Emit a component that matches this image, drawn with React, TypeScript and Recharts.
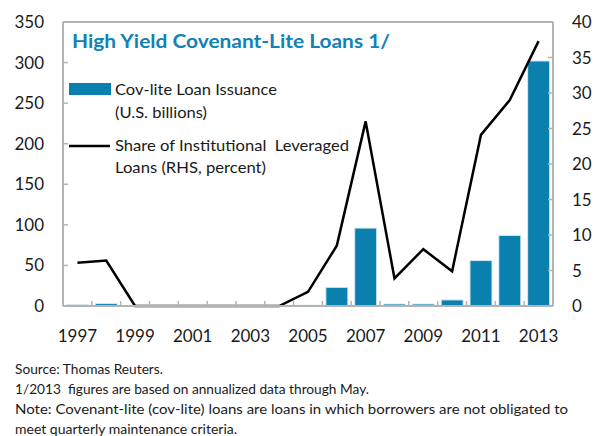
import React from 'react';
import { ComposedChart, Bar, Line, XAxis, YAxis, ReferenceLine } from 'recharts';

const years = ['1997', '1998', '1999', '2000', '2001', '2002', '2003', '2004', '2005',
  '2006', '2007', '2008', '2009', '2010', '2011', '2012', '2013'];
const issuance = [1.5, 3, 0, 0, 0, 0, 0, 0, 1, 23, 96, 2.5, 2.5, 7.5, 56, 87, 302];
const share = [6.1, 6.4, 0, 0, 0, 0, 0, 0, 2.0, 8.5, 26, 3.9, 8.0, 4.9, 24.1, 29.0, 37.3];
const leftTicks = [0, 50, 100, 150, 200, 250, 300, 350];
const rightTicks = [0, 5, 10, 15, 20, 25, 30, 35, 40];

const data = years.map((y, i) => ({ year: y, issuance: issuance[i], share: share[i] }));

const BLUE = '#0a80ae';
const AXIS_GRAY = '#b3b3b3';
const FONT = 'Lato, "Open Sans", sans-serif';
const CHART_W = 595;
const LEFT_W = 63;
const RIGHT_W = 42;
const BAND = (CHART_W - LEFT_W - RIGHT_W) / years.length;

// year ticks: small marks at category edges, labels on odd years
const YearTick = (props: any) => {
  const { x, y, payload, index } = props;
  const showLabel = index % 2 === 0;
  return (
    <g>
      <line x1={x - BAND / 2} x2={x - BAND / 2} y1={y} y2={y - 5} stroke={AXIS_GRAY} strokeWidth={1.5} />
      {index === years.length - 1 && (
        <line x1={x + BAND / 2} x2={x + BAND / 2} y1={y} y2={y - 5} stroke={AXIS_GRAY} strokeWidth={1.5} />
      )}
      {showLabel && (
        <text x={x} y={y + 36} textAnchor="middle" fontSize={17} fontFamily={FONT} fill="#1a1a1a">
          {payload.value}
        </text>
      )}
    </g>
  );
};

const legendText = [
  { text: 'Cov-lite Loan Issuance', y: 95, w: 162 },
  { text: '(U.S. billions)', y: 118, w: 92 },
  { text: 'Share of Institutional  Leveraged', y: 151, w: 234 },
  { text: 'Loans (RHS, percent)', y: 173, w: 151 },
];

const footer = [
  { text: 'Source: Thomas Reuters.', w: 148 },
  { text: '1/2013  figures are based on annualized data through May.', w: 354 },
  { text: 'Note: Covenant-lite (cov-lite) loans are loans in which borrowers are not obligated to', w: 553 },
  { text: 'meet quarterly maintenance criteria.', w: 222 },
];

export default function App() {
  return (
    <div style={{ position: 'absolute', left: 0, top: 0, width: 595, height: 436, background: '#fff' }}>
      <ComposedChart
        width={595}
        height={345}
        data={data}
        margin={{ top: 22, right: 0, bottom: 0, left: 0 }}
        barCategoryGap="12%"
      >
        <XAxis
          dataKey="year"
          xAxisId="x"
          height={39}
          interval={0}
          tickLine={false}
          tickSize={0}
          tickMargin={0}
          axisLine={{ stroke: AXIS_GRAY, strokeWidth: 2 }}
          tick={<YearTick />}
        />
        <YAxis
          yAxisId="left"
          width={LEFT_W}
          domain={[0, 350]}
          ticks={leftTicks}
          interval={0}
          tickSize={-5}
          tickMargin={24}
          axisLine={{ stroke: AXIS_GRAY, strokeWidth: 2 }}
          tickLine={{ stroke: AXIS_GRAY, strokeWidth: 1.5 }}
          tick={{ fontSize: 17, fontFamily: FONT, fill: '#1a1a1a' }}
        />
        <YAxis
          yAxisId="right"
          orientation="right"
          width={RIGHT_W}
          domain={[0, 40]}
          ticks={rightTicks}
          interval={0}
          tickSize={-5}
          tickMargin={24}
          axisLine={{ stroke: AXIS_GRAY, strokeWidth: 2 }}
          tickLine={{ stroke: AXIS_GRAY, strokeWidth: 1.5 }}
          tick={{ fontSize: 17, fontFamily: FONT, fill: '#1a1a1a', textAnchor: 'start' }}
        />
        <ReferenceLine yAxisId="left" xAxisId="x" y={350} stroke={AXIS_GRAY} strokeWidth={2} />
        <Bar
          dataKey="issuance"
          xAxisId="x"
          yAxisId="left"
          fill={BLUE}
          stroke="#d6eaf3"
          strokeWidth={1}
          isAnimationActive={false}
        />
        <Line
          dataKey="share"
          xAxisId="x"
          yAxisId="right"
          type="linear"
          stroke="#000"
          strokeWidth={2.5}
          dot={false}
          activeDot={false}
          isAnimationActive={false}
        />
      </ComposedChart>

      <svg width={595} height={436} style={{ position: 'absolute', left: 0, top: 0, pointerEvents: 'none' }}>
        <text
          x={72}
          y={48}
          fontSize={19}
          fontWeight={700}
          fontFamily={FONT}
          fill="#1082b4"
          textLength={318}
          lengthAdjust="spacingAndGlyphs"
        >
          High Yield Covenant-Lite Loans 1/
        </text>
        <rect x={69} y={83} width={42} height={12} fill={BLUE} />
        <line x1={69} x2={110} y1={146} y2={146} stroke="#000" strokeWidth={2.5} />
        {legendText.map((l, i) => (
          <text
            key={i}
            x={115}
            y={l.y}
            fontSize={16}
            fontFamily={FONT}
            fill="#1a1a1a"
            textLength={l.w}
            lengthAdjust="spacingAndGlyphs"
            style={{ whiteSpace: 'pre' }}
          >
            {l.text}
          </text>
        ))}
        {footer.map((f, i) => (
          <text
            key={i}
            x={15}
            y={374 + i * 20}
            fontSize={14}
            fontFamily={FONT}
            fill="#1a1a1a"
            textLength={f.w}
            lengthAdjust="spacingAndGlyphs"
            style={{ whiteSpace: 'pre' }}
          >
            {f.text}
          </text>
        ))}
      </svg>
    </div>
  );
}
